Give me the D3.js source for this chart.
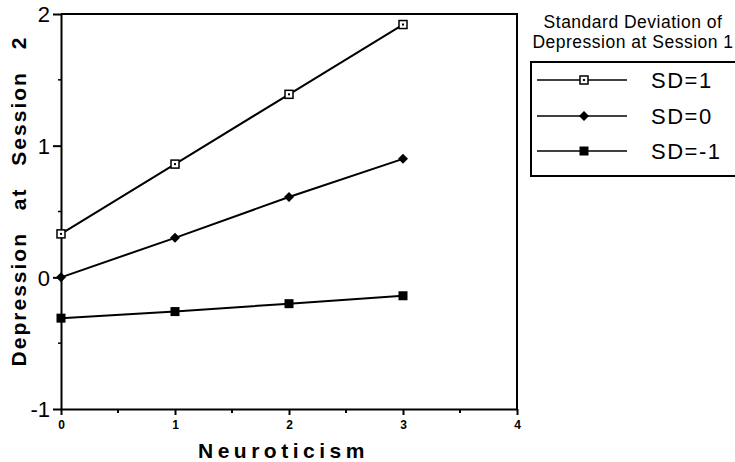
<!DOCTYPE html>
<html>
<head>
<meta charset="utf-8">
<script src="https://cdn.jsdelivr.net/npm/d3@7"></script>
<style>
  body { margin: 0; background: #fff; }
  text { font-family: "Liberation Sans", Arial, Helvetica, sans-serif; fill: #000; }
</style>
</head>
<body>
<svg id="chart" width="735" height="462"></svg>
<script>
// data
const neuroticism = [0, 1, 2, 3];
const sdPlus = [0.33, 0.86, 1.39, 1.92];
const sdZero = [0.0, 0.30, 0.61, 0.90];
const sdMinus = [-0.31, -0.26, -0.20, -0.14];
const seriesNames = ["SD=1", "SD=0", "SD=-1"];
const markerTypes = ["openSquare", "diamond", "square"];
const xTicks = [0, 1, 2, 3, 4];
const yTicks = [-1, 0, 1, 2];
const legendTitle = ["Standard Deviation of", "Depression at Session 1"];

const svg = d3.select("#chart");

// plot frame
const plotLeft = 61, plotRight = 517, plotTop = 14, plotBottom = 409;

const x = d3.scaleLinear().domain([0, 4]).range([plotLeft, plotRight]);
const y = d3.scaleLinear().domain([-1, 2]).range([plotBottom, plotTop]);

// frame (top and right edges)
svg.append("path")
    .attr("d", `M${plotLeft},${plotTop}H${plotRight}V${plotBottom}`)
    .attr("fill", "none")
    .attr("stroke", "#000")
    .attr("stroke-width", 2);

// x axis
const xAxis = svg.append("g")
    .attr("transform", "translate(0," + plotBottom + ")")
    .call(d3.axisBottom(x).tickValues(xTicks).tickSize(6).tickSizeOuter(0).tickFormat(d => String(d)));
xAxis.select(".domain").attr("stroke-width", 2);
xAxis.selectAll(".tick line").attr("stroke-width", 2);
xAxis.selectAll(".tick text")
    .attr("y", 11)
    .style("font-size", "12px")
    .style("font-weight", "bold");

// minor x ticks
svg.append("g")
    .selectAll("line")
    .data([0.5, 1.5, 2.5, 3.5])
    .join("line")
    .attr("x1", d => x(d)).attr("x2", d => x(d))
    .attr("y1", plotBottom).attr("y2", plotBottom + 4)
    .attr("stroke", "#000").attr("stroke-width", 2);

// y axis
const yAxis = svg.append("g")
    .attr("transform", "translate(" + plotLeft + ",0)")
    .call(d3.axisLeft(y).tickValues(yTicks).tickSize(8).tickSizeOuter(0).tickFormat(d => String(d)));
yAxis.select(".domain").attr("stroke-width", 2);
yAxis.selectAll(".tick line").attr("stroke-width", 2);
yAxis.selectAll(".tick text")
    .attr("x", -11)
    .attr("dy", "0.36em")
    .style("font-size", "22px");

// minor y ticks
svg.append("g")
    .selectAll("line")
    .data([-0.5, 0.5, 1.5])
    .join("line")
    .attr("x1", plotLeft - 3).attr("x2", plotLeft)
    .attr("y1", d => y(d)).attr("y2", d => y(d))
    .attr("stroke", "#000").attr("stroke-width", 1.5);

// axis titles
svg.append("text")
    .attr("x", 198)
    .attr("y", 458)
    .style("font-size", "21px")
    .style("font-weight", "bold")
    .style("letter-spacing", "4.5px")
    .text("Neuroticism");

svg.append("text")
    .attr("transform", "translate(26,201)rotate(-90)")
    .attr("text-anchor", "middle")
    .style("font-size", "21px")
    .style("font-weight", "bold")
    .style("letter-spacing", "2px")
    .style("word-spacing", "14px")
    .text("Depression at Session 2");

// markers
const drawMarker = (g, type, cx, cy) => {
    if (type === "openSquare") {
        g.append("rect")
            .attr("x", cx - 4).attr("y", cy - 4)
            .attr("width", 8).attr("height", 8)
            .attr("fill", "#fff").attr("stroke", "#000").attr("stroke-width", 1.5);
        g.append("rect")
            .attr("x", cx - 1).attr("y", cy - 1)
            .attr("width", 2).attr("height", 2)
            .attr("fill", "#000");
    } else if (type === "diamond") {
        g.append("path")
            .attr("d", `M${cx},${cy - 5}L${cx + 5},${cy}L${cx},${cy + 5}L${cx - 5},${cy}Z`)
            .attr("fill", "#000");
    } else {
        g.append("rect")
            .attr("x", cx - 4.5).attr("y", cy - 4.5)
            .attr("width", 9).attr("height", 9)
            .attr("fill", "#000");
    }
};

const allSeries = [sdPlus, sdZero, sdMinus];
const line = d3.line()
    .x((d, i) => x(neuroticism[i]))
    .y(d => y(d));

allSeries.forEach((vals, s) => {
    svg.append("path")
        .datum(vals)
        .attr("d", line)
        .attr("fill", "none")
        .attr("stroke", "#000")
        .attr("stroke-width", 2);
    const g = svg.append("g");
    vals.forEach((v, i) => drawMarker(g, markerTypes[s], x(neuroticism[i]), y(v)));
});

// legend
svg.selectAll(".legTitle")
    .data(legendTitle)
    .join("text")
    .attr("class", "legTitle")
    .attr("x", 633)
    .attr("y", (d, i) => 28 + i * 20)
    .attr("text-anchor", "middle")
    .style("font-size", "17.5px")
    .style("letter-spacing", "0.5px")
    .text(d => d);

svg.append("rect")
    .attr("x", 531).attr("y", 62)
    .attr("width", 210).attr("height", 114)
    .attr("fill", "none")
    .attr("stroke", "#000")
    .attr("stroke-width", 2);

const legRows = [80, 116, 151];
seriesNames.forEach((name, i) => {
    const ly = legRows[i];
    svg.append("line")
        .attr("x1", 537).attr("x2", 627)
        .attr("y1", ly).attr("y2", ly)
        .attr("stroke", "#000").attr("stroke-width", 1.5);
    drawMarker(svg.append("g"), markerTypes[i], 584, ly);
    svg.append("text")
        .attr("x", 651)
        .attr("y", ly + 8)
        .style("font-size", "22px")
        .style("letter-spacing", "1.5px")
        .text(name);
});
</script>
</body>
</html>
